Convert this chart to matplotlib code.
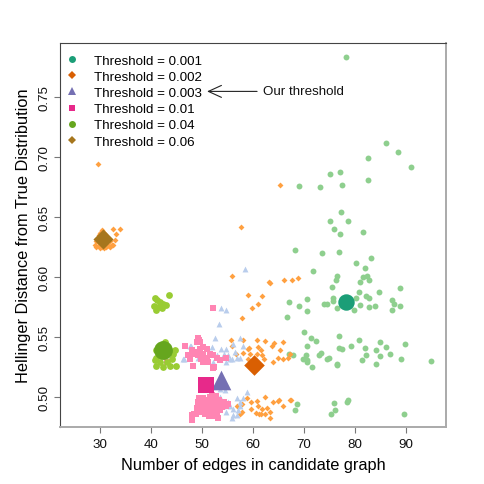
import matplotlib
matplotlib.use("Agg")
import matplotlib.pyplot as plt
from matplotlib.lines import Line2D

plt.rcParams['font.family'] = ['Liberation Sans', 'DejaVu Sans']

thresholds = ["0.001", "0.002", "0.003", "0.01", "0.04", "0.06"]
mean_colors = ["#1B9E77", "#D95F02", "#7570B3", "#E7298A", "#66A61E", "#A6761D"]
point_colors = ["#8ECF8E", "#FFA040", "#B9CDEC", "#FF85B3", "#99CC33", "#FFA040"]

# mean (edges, hellinger) for each threshold
mean_x = [78.2, 60.2, 53.8, 50.8, 42.4, 30.6]
mean_y = [0.579, 0.527, 0.514, 0.510, 0.539, 0.632]

# individual runs, threshold 0.001
t001 = [(78.2,0.783),(86.1,0.712),(88.4,0.704),(90.9,0.692),(82.5,0.699),(75.0,0.686),(77.0,0.688),
        (69.1,0.676),(73.2,0.675),(77.4,0.677),(82.5,0.681),(77.3,0.654),(75.0,0.647),(78.6,0.647),
        (75.9,0.640),(77.0,0.636),(81.6,0.638),(68.2,0.623),(73.6,0.620),(76.9,0.621),(80.2,0.612),
        (82.0,0.608),(83.1,0.616),(71.8,0.605),(76.5,0.601),(76.2,0.598),(81.6,0.600),(82.4,0.601),
        (82.8,0.598),(81.0,0.596),(75.4,0.592),(80.8,0.588),(84.7,0.588),(88.8,0.591),(67.1,0.579),
        (70.6,0.582),(69.1,0.576),(70.5,0.572),(74.0,0.578),(74.4,0.578),(75.6,0.583),(75.6,0.580),
        (76.4,0.574),(79.7,0.573),(80.2,0.583),(81.0,0.577),(82.2,0.584),(82.8,0.583),(82.8,0.575),
        (83.8,0.576),(87.3,0.581),(87.7,0.578),(88.8,0.576),(87.3,0.573),(66.6,0.567),(69.9,0.554),
        (71.3,0.549),(72.3,0.547),(76.9,0.551),(70.6,0.543),(80.8,0.548),(79.1,0.543),(76.9,0.541),
        (77.4,0.540),(82.0,0.541),(84.8,0.546),(86.1,0.542),(89.8,0.544),(84.1,0.539),(82.2,0.535),
        (84.8,0.534),(86.8,0.536),(89.0,0.532),(81.4,0.531),(84.0,0.528),(94.9,0.530),(67.1,0.536),
        (67.8,0.535),(70.3,0.535),(69.7,0.532),(70.6,0.531),(70.5,0.529),(71.5,0.525),(72.9,0.535),
        (73.4,0.537),(74.5,0.532),(74.9,0.533),(76.4,0.528),(76.5,0.527),(68.6,0.494),(68.2,0.489),
        (75.9,0.495),(76.1,0.489),(75.2,0.486),(78.5,0.496),(78.7,0.498),(89.6,0.486)]

# threshold 0.002
t002 = [(65.3,0.677),(57.6,0.642),(55.8,0.601),(63.2,0.596),(59.1,0.585),(61.8,0.584),(61.0,0.578),
        (59.9,0.574),(57.8,0.566),(63.3,0.595),(66.1,0.598),(67.7,0.598),(68.8,0.599),
        (55.7,0.548),(58.0,0.548),(60.8,0.548),(62.4,0.547),(64.2,0.545),(65.9,0.546),(59.3,0.541),
        (60.9,0.542),(61.6,0.539),(63.7,0.543),(65.2,0.539),(58.0,0.537),(59.5,0.536),(60.7,0.536),
        (61.7,0.535),(62.2,0.532),(64.0,0.529),(64.9,0.533),(65.8,0.532),(66.9,0.533),(67.3,0.536),
        (59.1,0.532),(56.6,0.536),(55.8,0.543),(59.1,0.540),
        (58.8,0.499),(57.9,0.494),(56.9,0.493),(59.7,0.496),(60.7,0.497),(62.4,0.500),(64.0,0.496),
        (64.9,0.497),(65.9,0.493),(67.4,0.498),(61.0,0.493),(61.7,0.490),(62.7,0.491),(63.3,0.488),
        (63.3,0.483),(61.6,0.486),(60.6,0.487),(59.6,0.490),(62.4,0.486),(57.8,0.488),(57.5,0.486),
        (61.2,0.486),(67.3,0.498),(65.0,0.498)]

# threshold 0.003
t003 = [(58.5,0.607),(53.7,0.574),(54.7,0.573),(53.4,0.561),(52.6,0.549),(51.9,0.542),(53.8,0.540),
        (54.8,0.540),(56.1,0.544),(57.5,0.549),(55.2,0.535),(56.9,0.533),(57.5,0.533),(53.5,0.532),
        (50.9,0.532),(46.5,0.532),(47.8,0.543),(49.3,0.533),(52.9,0.535),(54.3,0.536),(55.5,0.532),
        (56.5,0.538),(58.0,0.543),(54.8,0.529),(47.6,0.543),(46.3,0.532),(52.2,0.529),(55.8,0.532),
        (53.5,0.500),(55.2,0.496),(56.1,0.490),(56.8,0.485),(54.8,0.488),(57.5,0.493),(55.8,0.483),
        (54.2,0.493),(56.8,0.499),(58.1,0.499),(53.5,0.507),(54.5,0.506),(58.8,0.504),(57.1,0.489),
        (55.5,0.493),(56.1,0.485),(57.5,0.496)]

# threshold 0.01
t01 = [(52.1,0.574),(43.1,0.529),(49.5,0.548),(49.0,0.546),(46.7,0.543),(48.0,0.539),(48.6,0.538),
       (49.6,0.540),(50.3,0.542),(50.9,0.540),(50.3,0.536),(49.3,0.535),(49.9,0.532),(50.9,0.533),
       (51.6,0.536),(52.2,0.535),(47.6,0.532),(47.3,0.535),(48.3,0.526),(50.3,0.529),(51.2,0.529),
       (52.4,0.525),(52.9,0.533),(53.5,0.531),(54.8,0.533),(49.3,0.549),(49.6,0.546),(48.3,0.536),
       (52.2,0.524),
       (49.2,0.496),(49.6,0.492),(49.8,0.488),(50.0,0.495),(50.2,0.499),(50.4,0.491),(50.6,0.486),
       (50.8,0.494),(51.0,0.498),(51.2,0.490),(51.4,0.487),(51.6,0.495),(51.8,0.492),(52.0,0.488),
       (52.2,0.497),(52.4,0.493),(52.6,0.490),(52.8,0.486),(53.0,0.495),(53.2,0.491),(53.4,0.498),
       (53.6,0.489),(53.8,0.494),(54.0,0.492),(54.4,0.496),(54.8,0.493),(55.2,0.494),(50.0,0.490),
       (50.9,0.489),(51.5,0.500),(52.7,0.501),(51.3,0.484),(52.3,0.484),(53.1,0.483),(49.0,0.491),
       (48.5,0.486),(48.0,0.481),(48.0,0.485),(48.9,0.486),(52.9,0.485),(52.0,0.502),(49.5,0.499)]

# threshold 0.04
t04 = [(40.8,0.583),(41.2,0.581),(40.6,0.576),(41.4,0.575),(42.1,0.574),(41.1,0.573),(42.4,0.578),
       (42.9,0.577),(43.5,0.585),(41.8,0.579),
       (42.7,0.546),(41.1,0.539),(41.0,0.533),(41.8,0.529),(43.1,0.529),(44.1,0.532),(44.4,0.536),
       (44.9,0.526),(41.1,0.526),(42.4,0.525),(43.7,0.526),(40.8,0.531),(44.7,0.539),(42.0,0.543)]

# threshold 0.06
t06 = [(29.0,0.627),(29.3,0.625),(29.6,0.629),(29.8,0.626),(30.0,0.624),(30.2,0.628),(30.4,0.625),
       (30.6,0.627),(30.8,0.624),(31.0,0.626),(31.3,0.625),(31.5,0.628),(31.8,0.626),(32.0,0.625),
       (32.3,0.627),(29.5,0.632),(29.8,0.635),(30.1,0.637),(30.4,0.639),(30.7,0.638),(31.0,0.636),
       (31.3,0.634),(31.6,0.632),(31.9,0.630),(29.2,0.630),(30.0,0.633),(30.5,0.631),(31.2,0.630),
       (30.9,0.633),(30.3,0.635),(32.5,0.640),(33.1,0.636),(34.0,0.640),(33.0,0.631),(32.6,0.627),
       (29.7,0.694)]

runs = [t001, t002, t003, t01, t04, t06]
small_markers = ["o", "D", "^", "s", "o", "D"]
small_sizes = [18, 9, 18, 13, 24, 9]
big_markers = ["o", "D", "^", "s", "o", "D"]
big_sizes = [140, 110, 200, 140, 185, 105]
legend_sizes = [5, 3.6, 6, 5, 5, 3.6]

x_ticks = [30, 40, 50, 60, 70, 80, 90]
y_ticks = [0.50, 0.55, 0.60, 0.65, 0.70, 0.75]
y_tick_labels = ["0.50", "0.55", "0.60", "0.65", "0.70", "0.75"]

fig = plt.figure(figsize=(4.85, 4.85), dpi=100)
ax = fig.add_axes([60/485, 1-428.3/485, 386/485, 384.3/485])

for pts, c, m, s in zip(runs, point_colors, small_markers, small_sizes):
    xs = [p[0] for p in pts]
    ys = [p[1] for p in pts]
    ax.scatter(xs, ys, s=s, marker=m, c=c, linewidths=0, zorder=2)

for x, y, c, m, s in zip(mean_x, mean_y, mean_colors, big_markers, big_sizes):
    ax.scatter([x], [y], s=s, marker=m, c=c, linewidths=0, zorder=3)

ax.set_xlim(22.2, 97.8)
ax.set_ylim(0.475, 0.795)
ax.set_xticks(x_ticks)
ax.set_yticks(y_ticks)
ax.set_yticklabels(y_tick_labels, rotation=90, va='center')
ax.tick_params(axis='both', labelsize=9.6, length=4, width=0.8, color='#777777', labelcolor='#111111')
ax.tick_params(axis='x', pad=4)
ax.tick_params(axis='y', pad=2.5)
ax.set_xlabel("Number of edges in candidate graph", fontsize=11.8, labelpad=5)
ax.set_ylabel("Hellinger Distance from True Distribution", fontsize=11.8, labelpad=6)

for side in ['left', 'top']:
    ax.spines[side].set_color('#444444')
    ax.spines[side].set_linewidth(0.8)
for side in ['bottom', 'right']:
    ax.spines[side].set_color('#aaaaaa')
    ax.spines[side].set_linewidth(1.4)

handles = [Line2D([], [], linestyle='none', marker=m, markersize=ms, color=c, markeredgewidth=0)
           for m, ms, c in zip(small_markers, legend_sizes, mean_colors)]
labels = ["Threshold = " + t for t in thresholds]
ax.legend(handles, labels, loc='upper left', frameon=False, fontsize=9.6,
          handlelength=0.8, handletextpad=1.3, labelspacing=0.29,
          borderaxespad=0.3, borderpad=0.55, bbox_to_anchor=(-0.013, 1.0))

ax.annotate("", xy=(51.0, 0.7547), xytext=(60.8, 0.7547),
            arrowprops=dict(arrowstyle='->,head_length=0.94,head_width=0.43', lw=0.8,
                            color='#222222', shrinkA=0, shrinkB=0, mutation_scale=10))
ax.text(61.9, 0.7547, "Our threshold", fontsize=9.6, va='center', ha='left', color='#111111')

fig.savefig("out.png", dpi=100)
